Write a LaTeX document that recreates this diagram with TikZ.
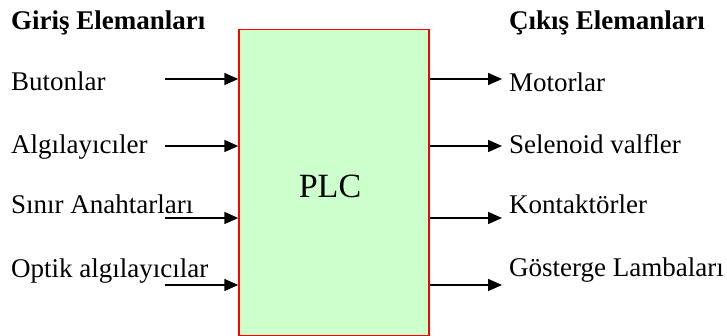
\documentclass[tikz,border=0pt]{standalone}
\usepackage{fontspec}
\setmainfont{Liberation Serif}
\usetikzlibrary{arrows.meta}
\definecolor{plcgreen}{HTML}{CCFFCC}

\begin{document}
\begin{tikzpicture}[x=1pt, y=1pt,
  lbl/.style={anchor=base west, inner sep=0pt, font=\fontsize{27}{32}\selectfont},
  head/.style={lbl, font=\fontsize{27}{32}\selectfont\bfseries},
  sig/.style={line width=1.6pt, -{Triangle[length=14pt, width=12pt]}}]
\useasboundingbox (0,0) rectangle (727,336);

% PLC block (green)
\node[draw=red, line width=1.5pt, fill=plcgreen, minimum width=190, minimum height=306,
  inner sep=0pt] (plc) at (334,153.5) {};
\node[anchor=base, inner sep=0pt, font=\fontsize{34}{40}\selectfont] (plctxt) at (330,138) {PLC};

% Inputs
\node[head] (giris) at (11,306) {Giriş Elemanları};
\node[lbl] (buton) at (11,245) {Butonlar};
\node[lbl] (algi) at (11,182) {Algılayıcıler};
\node[lbl] (sinir) at (11,122) {Sınır Anahtarları};
\node[lbl] (optik) at (11,58) {Optik algılayıcılar};

\coordinate (in1) at (165,257);
\coordinate (in2) at (165,190);
\coordinate (in3) at (165,118);
\coordinate (in4) at (165,51);
\draw[sig] (in1) -- (plc.west |- in1);
\draw[sig] (in2) -- (plc.west |- in2);
\draw[sig] (in3) -- (plc.west |- in3);
\draw[sig] (in4) -- (plc.west |- in4);

% Outputs
\node[head] (cikis) at (509,306) {Çıkış Elemanları};
\node[lbl] (motor) at (509,244) {Motorlar};
\node[lbl] (selen) at (509,182) {Selenoid valfler};
\node[lbl] (kontak) at (509,122) {Kontaktörler};
\node[lbl] (gost) at (509,59) {Gösterge Lambaları};

\coordinate (out1) at (502,257);
\coordinate (out2) at (502,190);
\coordinate (out3) at (502,118);
\coordinate (out4) at (502,51);
\draw[sig] (plc.east |- out1) -- (out1);
\draw[sig] (plc.east |- out2) -- (out2);
\draw[sig] (plc.east |- out3) -- (out3);
\draw[sig] (plc.east |- out4) -- (out4);
\end{tikzpicture}
\end{document}
